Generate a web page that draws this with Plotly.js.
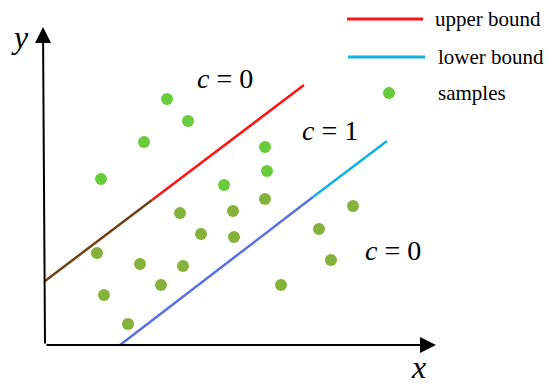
<!DOCTYPE html>
<html>
<head>
<meta charset="utf-8">
<script src="https://cdn.plot.ly/plotly-3.0.1.min.js"></script>
<style>html,body{margin:0;padding:0;background:#fff}#chart{width:550px;height:388px}</style>
</head>
<body>
<div id="chart"></div>
<script>
// Samples drawn bright (region above the upper bound and upper part of middle)
const samplesBrightX = [122, 143, 99, 56, 220, 222, 179];
const samplesBrightY = [246, 224, 203, 166, 198, 174, 160];
// Samples drawn olive (overlay region)
const samplesOliveX = [135, 188, 220, 308, 52, 156, 189, 274, 95, 138, 286, 116, 59, 236, 83];
const samplesOliveY = [132, 134, 146, 139, 92, 111, 108, 116, 81, 79, 85, 60, 50, 60, 21];
// Upper bound: two colored segments (dark part, red part)
const upperX = [0, 107, 259];
const upperY = [64, 145, 260];
// Lower bound: two colored segments (blue part, cyan part)
const lowerX = [75, 268, 342];
const lowerY = [0, 148, 204];
// Region labels
const regionLabels = ['<i>c</i> = 0', '<i>c</i> = 1', '<i>c</i> = 0'];
const regionX = [180, 285, 348];
const regionY = [267, 215, 95];
// Legend entries
const legendLabels = ['upper bound', 'lower bound', 'samples'];

const serif = 'Liberation Serif, Times New Roman, serif';

const traces = [
  {x: upperX.slice(0, 2), y: upperY.slice(0, 2), mode: 'lines', line: {color: '#6f4215', width: 2.5}, hoverinfo: 'skip'},
  {x: upperX.slice(1), y: upperY.slice(1), mode: 'lines', line: {color: '#ff1414', width: 2.5}, hoverinfo: 'skip'},
  {x: lowerX.slice(0, 2), y: lowerY.slice(0, 2), mode: 'lines', line: {color: '#5a6fe0', width: 2.5}, hoverinfo: 'skip'},
  {x: lowerX.slice(1), y: lowerY.slice(1), mode: 'lines', line: {color: '#10b2e2', width: 2.5}, hoverinfo: 'skip'},
  {x: samplesBrightX, y: samplesBrightY, mode: 'markers', marker: {color: '#69cc3c', size: 12}},
  {x: samplesOliveX, y: samplesOliveY, mode: 'markers', marker: {color: '#85b23a', size: 12}}
];

const annotations = [
  // axes with arrows
  {x: 391, y: 0, ax: 0, ay: 0, xref: 'x', yref: 'y', axref: 'x', ayref: 'y', text: '', showarrow: true, arrowhead: 2, arrowsize: 1.6, arrowwidth: 2, arrowcolor: '#000', standoff: 0, startstandoff: 0},
  {x: -2, y: 318, ax: 0, ay: 0, xref: 'x', yref: 'y', axref: 'x', ayref: 'y', text: '', showarrow: true, arrowhead: 2, arrowsize: 1.6, arrowwidth: 2, arrowcolor: '#000', standoff: 0, startstandoff: 0},
  {x: -25, y: 308, xref: 'x', yref: 'y', text: '<i>y</i>', showarrow: false, font: {family: serif, size: 32, color: '#000'}},
  {x: 373, y: -22, xref: 'x', yref: 'y', text: '<i>x</i>', showarrow: false, font: {family: serif, size: 32, color: '#000'}}
];
regionLabels.forEach((t, i) => annotations.push({x: regionX[i], y: regionY[i], xref: 'x', yref: 'y', text: t, showarrow: false, font: {family: serif, size: 28, color: '#000'}}));
const legendTextX = [388, 391, 391];
const legendTextY = [326, 288, 252];
legendLabels.forEach((t, i) => annotations.push({x: legendTextX[i], y: legendTextY[i], xref: 'x', yref: 'y', xanchor: 'left', text: t, showarrow: false, font: {family: serif, size: 21, color: '#000'}}));

const shapes = [
  {type: 'line', xref: 'x', yref: 'y', x0: 302, x1: 378, y0: 326, y1: 326, line: {color: '#ff1414', width: 3}},
  {type: 'line', xref: 'x', yref: 'y', x0: 303, x1: 380, y0: 288, y1: 288, line: {color: '#10b2e2', width: 3}},
  {type: 'circle', xref: 'x', yref: 'y', x0: 338, x1: 350, y0: 246, y1: 258, fillcolor: '#69cc3c', line: {width: 0}}
];

const layout = {
  width: 550, height: 388,
  margin: {l: 0, r: 0, t: 0, b: 0},
  paper_bgcolor: '#fff', plot_bgcolor: '#fff',
  showlegend: false,
  xaxis: {range: [-45, 505], visible: false, fixedrange: true},
  yaxis: {range: [-43, 345], visible: false, fixedrange: true},
  annotations: annotations,
  shapes: shapes
};

Plotly.newPlot('chart', traces, layout, {staticPlot: true});
</script>
</body>
</html>
